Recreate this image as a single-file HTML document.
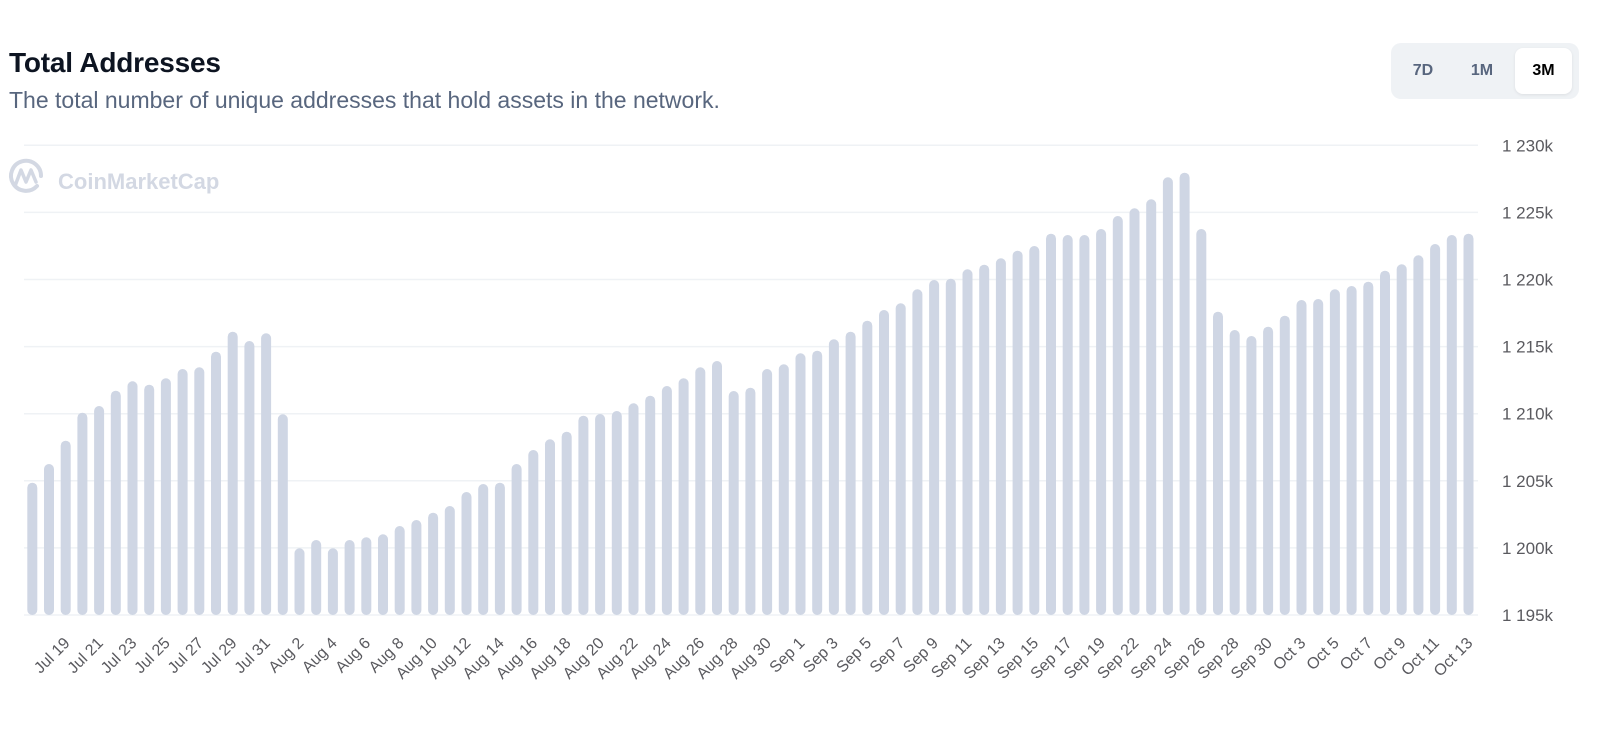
<!DOCTYPE html>
<html><head><meta charset="utf-8"><style>
html,body{margin:0;padding:0;background:#fff;width:1600px;height:744px;overflow:hidden;font-family:"Liberation Sans",sans-serif}
.title{position:absolute;left:9px;top:47px;font-size:28px;font-weight:bold;color:#0d1421;letter-spacing:-0.2px}
.sub{position:absolute;left:9px;top:87px;font-size:23px;color:#58667e}
.tog{position:absolute;left:1391px;top:43px;width:188px;height:56px;background:#eff2f5;border-radius:10px}
.tog span{position:absolute;top:0;line-height:56px;font-size:16px;font-weight:bold;color:#58667e;text-align:center}
.tog .on{background:#fff;color:#000;top:5px;height:46px;line-height:46px;border-radius:8px;box-shadow:0 1px 3px rgba(0,0,0,0.08)}
</style></head><body>
<div class="title">Total Addresses</div>
<div class="sub">The total number of unique addresses that hold assets in the network.</div>
<div class="tog"><span style="left:14px;width:36px">7D</span><span style="left:72px;width:38px">1M</span><span class="on" style="left:124px;width:57px">3M</span></div>
<svg id="c" width="1600" height="744" style="position:absolute;left:0;top:0" xmlns="http://www.w3.org/2000/svg"></svg>
<script>
const tops=[482.7,464,440.7,412.7,406,390.7,381.3,384.7,378.3,369,367.3,351.7,331.7,341,333.3,414.3,548.3,540,548.3,540,537.3,534.3,526,520,512.7,506,492,484,482.7,464,450,439.3,431.7,415.7,414,411,403.3,395.7,386,378.3,367.3,361,391,387.7,369,364.3,353.3,350.7,339.3,331.7,320.7,310,303.3,289.3,280,278.7,269.3,264.7,258.3,250.7,246,233.7,235,235,229,216,208.3,199.3,177.3,172.7,229,311.7,330,336,326.7,315.7,300,299,289.3,286,281.7,270.7,264.3,255.3,244,235,233.7];
const labels=["Jul 19","Jul 21","Jul 23","Jul 25","Jul 27","Jul 29","Jul 31","Aug 2","Aug 4","Aug 6","Aug 8","Aug 10","Aug 12","Aug 14","Aug 16","Aug 18","Aug 20","Aug 22","Aug 24","Aug 26","Aug 28","Aug 30","Sep 1","Sep 3","Sep 5","Sep 7","Sep 9","Sep 11","Sep 13","Sep 15","Sep 17","Sep 19","Sep 22","Sep 24","Sep 26","Sep 28","Sep 30","Oct 3","Oct 5","Oct 7","Oct 9","Oct 11","Oct 13"];
let s='';
const yl=["1 230k","1 225k","1 220k","1 215k","1 210k","1 205k","1 200k","1 195k"];
for(let k=0;k<8;k++){const y=145.3+k*67.1;
s+=`<line x1="24" x2="1478" y1="${y}" y2="${y}" stroke="#eff2f5" stroke-width="1.5"/>`;
s+=`<text x="1502" y="${y+6}" font-size="17" fill="#5a5a5f" font-family="Liberation Sans, sans-serif">${yl[k]}</text>`;}
s+=`<path d="M37 186 A15 15 0 1 1 41 176" fill="none" stroke="#d3d8e3" stroke-width="4" stroke-linecap="round"/><path d="M15 186 L21 170 L26 182 L31 170 L36 182" fill="none" stroke="#d3d8e3" stroke-width="3.5" stroke-linejoin="round" stroke-linecap="round"/>`;
s+=`<text x="58" y="189" font-size="22" font-weight="bold" fill="#d3d8e3" font-family="Liberation Sans, sans-serif">CoinMarketCap</text>`;
for(let i=0;i<tops.length;i++){const cx=32.3+i*16.7;
s+=`<rect x="${(cx-5).toFixed(1)}" y="${tops[i]}" width="10" height="${(615-tops[i]).toFixed(1)}" rx="5" fill="#cfd6e4"/>`;}
for(let j=0;j<labels.length;j++){const i=2+2*j;const cx=32.3+i*16.7+5;const y=644;
s+=`<text x="${cx.toFixed(1)}" y="${y}" font-size="16" fill="#5a5a5f" text-anchor="end" transform="rotate(-45 ${cx.toFixed(1)} ${y})" font-family="Liberation Sans, sans-serif">${labels[j]}</text>`;}
document.getElementById('c').innerHTML=s;
</script>
</body></html>
